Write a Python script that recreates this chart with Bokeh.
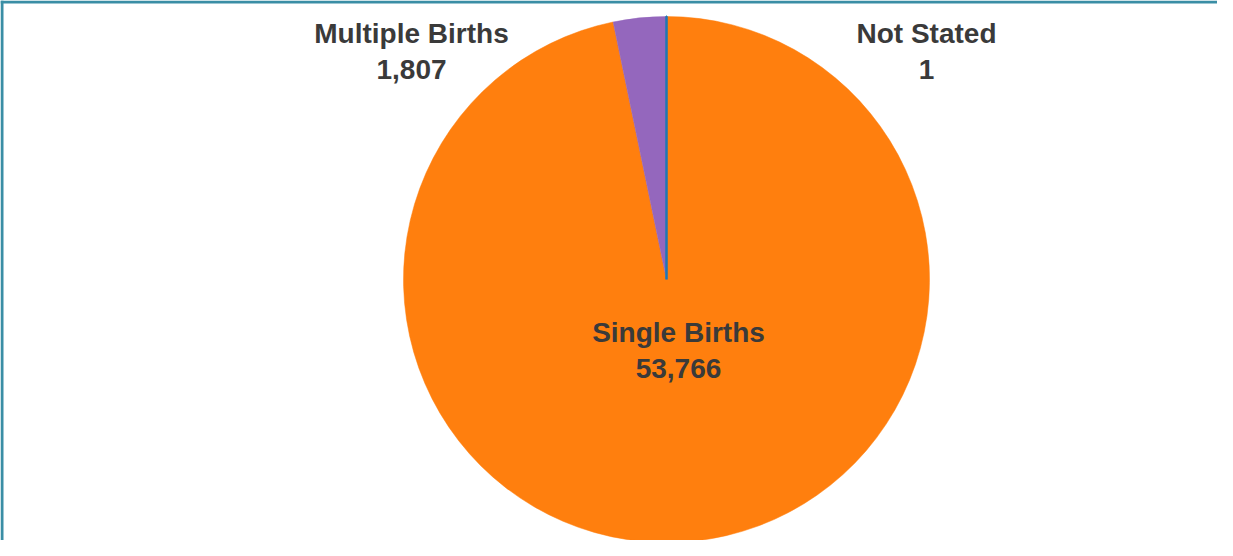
import math
from bokeh.plotting import figure
from bokeh.models import ColumnDataSource, Range1d, Span
from bokeh.core.properties import value
from bokeh.embed import file_html
from bokeh.resources import INLINE

# ---- data ----
categories = ["Not Stated", "Single Births", "Multiple Births"]
counts = [1, 53766, 1807]
colors = ["#1f77b4", "#ff7f0e", "#9467bd"]

# ---- layout ----
W, H = 1217, 540
cx, cy, R = 666, 261, 263
label_x = [926, 678, 411]
label_y = [489, 190, 489]

total = sum(counts)
starts, ends = [], []
cum = 0
for c in counts:
    starts.append(math.pi / 2 - 2 * math.pi * cum / total)
    cum += c
    ends.append(math.pi / 2 - 2 * math.pi * cum / total)

p = figure(width=W, height=H, output_backend="svg", toolbar_location=None,
           x_range=Range1d(0, W), y_range=Range1d(0, H), min_border=0)
p.axis.visible = False
p.grid.visible = False
p.outline_line_color = None
p.background_fill_color = "white"
p.border_fill_color = "white"

# draw big slices first, tiny one last so its stroke is on top
order = [1, 2, 0]
for i in order:
    src = ColumnDataSource(dict(x=[cx], y=[cy], s=[starts[i]], e=[ends[i]]))
    lw = 2.5 if i == 0 else 0.5
    p.wedge(x="x", y="y", radius=R, start_angle="s", end_angle="e",
            direction="clock", fill_color=colors[i], line_color=colors[i],
            line_width=lw, source=src)

labels = [f"{n}\n{v:,}" for n, v in zip(categories, counts)]
lsrc = ColumnDataSource(dict(x=label_x, y=label_y, t=labels))
p.text(x="x", y="y", text="t", source=lsrc, text_align="center",
       text_baseline="middle", text_font=value("Liberation Sans"),
       text_font_style="bold", text_font_size="28px", text_color="#3a3a3a",
       text_line_height=1.14)

border = "#3a8ea5"
p.add_layout(Span(location=H - 1.5, dimension="width", line_color=border, line_width=3))
p.add_layout(Span(location=1.5, dimension="height", line_color=border, line_width=3))

open("out.html", "w").write(file_html(p, INLINE))
